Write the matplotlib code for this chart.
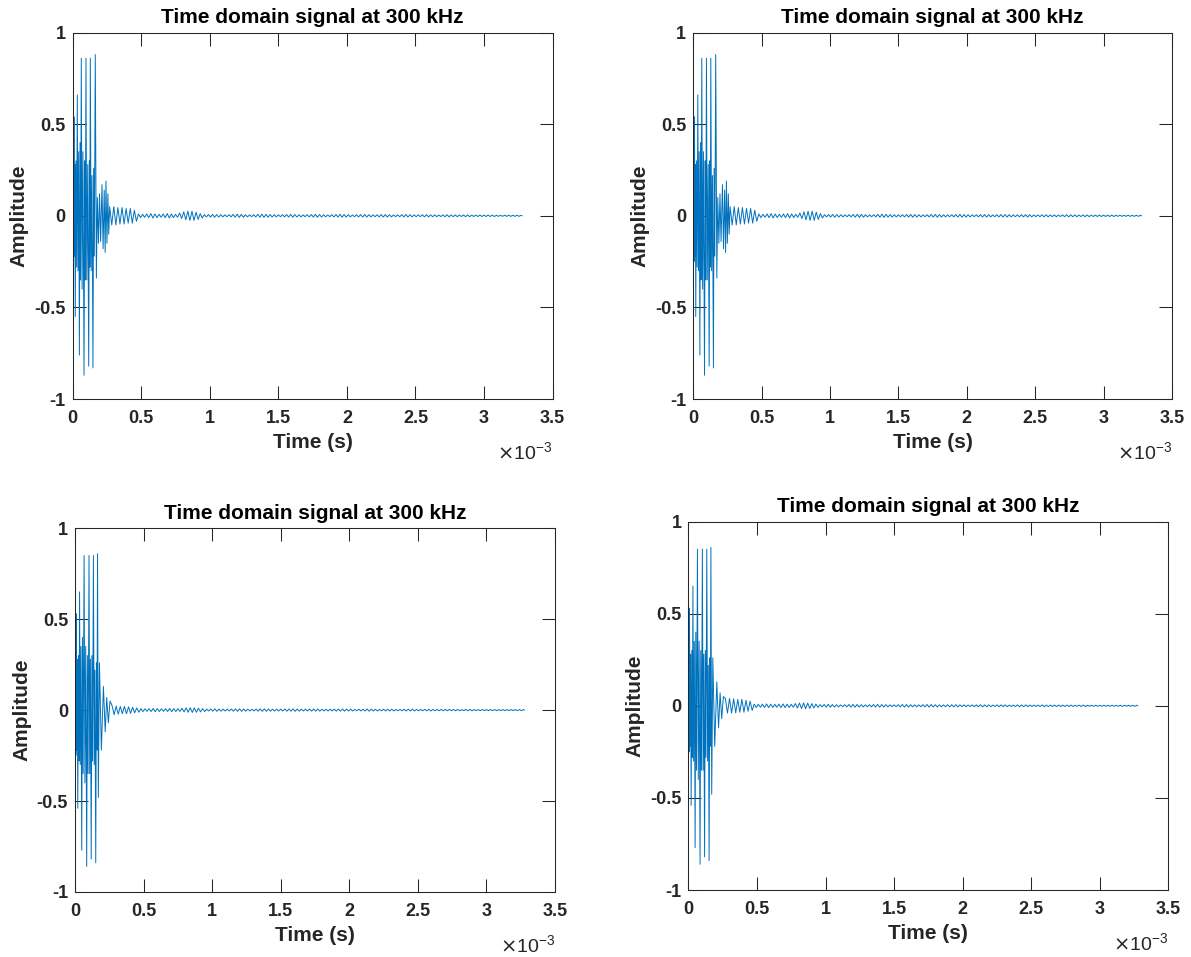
import numpy as np
import matplotlib.pyplot as plt
from matplotlib.ticker import FuncFormatter

plt.rcParams['font.family'] = ['Liberation Sans', 'DejaVu Sans']
plt.rcParams['axes.unicode_minus'] = False

# ---- data (time in ms) ----
# burst extrema, top row panels
top_burst_t = [0.000, 0.003, 0.006, 0.0095, 0.013, 0.016, 0.019, 0.024, 0.029, 0.034,
               0.039, 0.044, 0.049, 0.054, 0.058, 0.063, 0.069, 0.075, 0.083, 0.088,
               0.092, 0.097, 0.103, 0.110, 0.117, 0.122, 0.125, 0.129, 0.135, 0.141,
               0.148, 0.153, 0.158, 0.165, 0.173, 0.180, 0.188, 0.196, 0.204, 0.214,
               0.222, 0.230, 0.237, 0.243, 0.250, 0.257, 0.263]
top_burst_v = [-0.10, 0.22, -0.25, 0.54, -0.22, 0.28, -0.55, 0.30, -0.28, 0.66,
               -0.30, 0.35, -0.76, 0.40, -0.35, 0.86, -0.40, 0.35, -0.87, 0.30,
               -0.35, 0.86, -0.35, 0.28, -0.82, 0.30, -0.28, 0.86, -0.30, 0.22,
               -0.83, 0.26, -0.22, 0.88, -0.34, 0.10, -0.15, 0.12, -0.14, 0.17,
               -0.18, 0.14, -0.20, 0.19, -0.15, 0.12, -0.10]
# peak amplitude of each ringing cycle after the burst (one cycle = 0.03 ms)
top_tail_amp = [0.050, 0.050, 0.045, 0.045, 0.040, 0.040, 0.030,
                0.010, 0.008, 0.010, 0.012, 0.010, 0.008, 0.010, 0.012, 0.010, 0.008,
                0.015, 0.022, 0.025, 0.025, 0.020, 0.012,
                0.006, 0.007, 0.008, 0.007, 0.006, 0.005, 0.006, 0.008, 0.009, 0.008,
                0.006, 0.005, 0.006, 0.008, 0.009, 0.008, 0.007, 0.006,
                0.005, 0.006, 0.007, 0.008, 0.007, 0.006, 0.005, 0.006, 0.007, 0.008,
                0.007, 0.006, 0.005, 0.006, 0.007, 0.008, 0.007, 0.006, 0.005, 0.006,
                0.007, 0.007, 0.006, 0.005, 0.006, 0.007, 0.007, 0.006, 0.005, 0.005,
                0.006, 0.007, 0.006, 0.005, 0.005, 0.006, 0.006, 0.005, 0.005, 0.004,
                0.005, 0.006, 0.005, 0.005, 0.004, 0.005, 0.005, 0.004, 0.004, 0.004,
                0.004, 0.004, 0.004, 0.003, 0.003, 0.003, 0.003, 0.003, 0.003, 0.003]

# burst extrema, bottom row panels
bot_burst_t = [0.000, 0.003, 0.006, 0.008, 0.012, 0.016, 0.020, 0.025, 0.029, 0.033,
               0.038, 0.043, 0.049, 0.054, 0.059, 0.066, 0.072, 0.078, 0.085, 0.090,
               0.095, 0.102, 0.107, 0.112, 0.118, 0.123, 0.128, 0.134, 0.140, 0.145,
               0.151, 0.156, 0.160, 0.164, 0.170, 0.178, 0.192, 0.207, 0.220, 0.231,
               0.243, 0.255]
bot_burst_v = [-0.10, 0.22, -0.25, 0.53, -0.22, 0.28, -0.54, 0.30, -0.28, 0.65,
               -0.30, 0.35, -0.77, 0.40, -0.35, 0.85, -0.40, 0.35, -0.86, 0.30,
               -0.35, 0.85, -0.35, 0.28, -0.82, 0.30, -0.28, 0.85, -0.30, 0.22,
               -0.84, 0.26, -0.22, 0.86, -0.48, 0.26, -0.22, 0.13, -0.12, 0.07,
               -0.07, 0.05]
bl_tail_amp = [0.025, 0.022, 0.020, 0.020, 0.018, 0.015, 0.012,
               0.008, 0.007, 0.008, 0.009, 0.008, 0.007, 0.008, 0.009, 0.008, 0.007,
               0.010, 0.012, 0.013, 0.012, 0.010, 0.008,
               0.005, 0.006, 0.007, 0.006, 0.005, 0.005, 0.006, 0.007, 0.007, 0.006,
               0.005, 0.005, 0.006, 0.007, 0.007, 0.006, 0.005, 0.005,
               0.005, 0.006, 0.006, 0.007, 0.006, 0.005, 0.005, 0.006, 0.006, 0.006,
               0.005, 0.005, 0.005, 0.006, 0.006, 0.006, 0.005, 0.005, 0.004, 0.005,
               0.005, 0.006, 0.005, 0.005, 0.004, 0.005, 0.005, 0.005, 0.004, 0.004,
               0.005, 0.005, 0.005, 0.004, 0.004, 0.004, 0.005, 0.004, 0.004, 0.004,
               0.004, 0.004, 0.004, 0.004, 0.003, 0.004, 0.004, 0.003, 0.003, 0.003,
               0.003, 0.003, 0.003, 0.003, 0.003, 0.003, 0.003, 0.003, 0.003, 0.003]
br_tail_amp = [0.040, 0.040, 0.038, 0.035, 0.035, 0.030, 0.025,
               0.009, 0.008, 0.009, 0.010, 0.009, 0.008, 0.009, 0.010, 0.009, 0.008,
               0.012, 0.015, 0.016, 0.015, 0.012, 0.009,
               0.006, 0.007, 0.008, 0.007, 0.006, 0.005, 0.006, 0.007, 0.008, 0.007,
               0.006, 0.005, 0.006, 0.007, 0.008, 0.007, 0.006, 0.005,
               0.005, 0.006, 0.007, 0.007, 0.006, 0.005, 0.005, 0.006, 0.007, 0.007,
               0.006, 0.005, 0.005, 0.006, 0.006, 0.006, 0.005, 0.005, 0.004, 0.005,
               0.005, 0.006, 0.005, 0.005, 0.004, 0.005, 0.005, 0.005, 0.004, 0.004,
               0.005, 0.005, 0.005, 0.004, 0.004, 0.004, 0.005, 0.004, 0.004, 0.004,
               0.004, 0.004, 0.004, 0.004, 0.003, 0.004, 0.004, 0.003, 0.003, 0.003,
               0.003, 0.003, 0.003, 0.003, 0.003, 0.003, 0.003, 0.003, 0.003, 0.003]

tail_start = 0.27     # ms
cycle = 0.03          # ms
t_end = 3.277         # ms

xticks = [0, 0.5e-3, 1e-3, 1.5e-3, 2e-3, 2.5e-3, 3e-3, 3.5e-3]
yticks = [-1, -0.5, 0, 0.5, 1]
title = 'Time domain signal at 300 kHz'

# axes boxes in figure fraction: left, bottom, width, height
boxes = [
    [0.061, 0.583, 0.403, 0.383],
    [0.582, 0.583, 0.402, 0.383],
    [0.063, 0.068, 0.403, 0.380],
    [0.578, 0.070, 0.403, 0.385],
]
panels = [
    (top_burst_t, top_burst_v, top_tail_amp),
    (top_burst_t, top_burst_v, top_tail_amp),
    (bot_burst_t, bot_burst_v, bl_tail_amp),
    (bot_burst_t, bot_burst_v, br_tail_amp),
]


def build(bt, bv, amp):
    amp = np.asarray(amp)
    tpos = tail_start + cycle * np.arange(len(amp))
    tt = np.column_stack([tpos, tpos + cycle / 2]).ravel()
    vv = np.column_stack([amp, -amp]).ravel()
    t = np.concatenate([bt, tt, [t_end]])
    v = np.concatenate([bv, vv, [0.0]])
    keep = t <= t_end
    return t[keep] * 1e-3, v[keep]


fig = plt.figure(figsize=(11.91, 9.57), dpi=100)
dark = '#262626'

for box, (bt, bv, amp) in zip(boxes, panels):
    ax = fig.add_axes(box)
    t, v = build(bt, bv, amp)
    ax.plot(t, v, color='#0072BD', lw=0.7)

    ax.set_xlim(0, 3.5e-3)
    ax.set_ylim(-1, 1)
    ax.set_xticks(xticks)
    ax.set_yticks(yticks)
    ax.xaxis.set_major_formatter(FuncFormatter(lambda x, p: '%g' % round(x * 1e3, 3)))
    ax.yaxis.set_major_formatter(FuncFormatter(lambda y, p: '%g' % y))
    ax.tick_params(direction='in', length=9.5, width=0.75, colors=dark,
                   top=True, right=True, labelsize=13)
    ax.tick_params(axis='x', pad=8)
    ax.tick_params(axis='y', pad=5)
    for lab in ax.get_xticklabels() + ax.get_yticklabels():
        lab.set_fontweight('bold')
    for s in ax.spines.values():
        s.set_color(dark)
        s.set_linewidth(0.75)

    ax.set_title(title, fontsize=15, fontweight='bold', pad=7)
    ax.set_xlabel('Time (s)', fontsize=15, fontweight='bold', color=dark, labelpad=4)
    ax.set_ylabel('Amplitude', fontsize=15, fontweight='bold', color=dark, labelpad=4)
    ax.text(1.0, -0.145, r'$\times\mathregular{10^{-3}}$', transform=ax.transAxes,
            ha='right', va='center', fontsize=14, color=dark)

fig.savefig('out.png', dpi=100)
